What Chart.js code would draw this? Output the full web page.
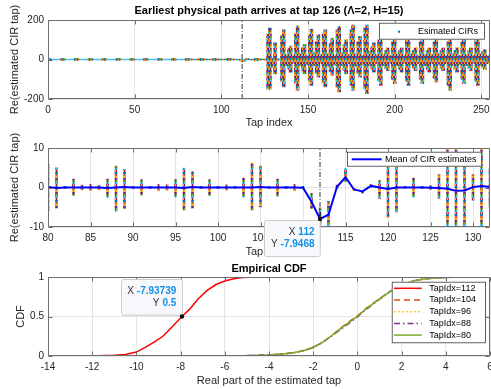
<!DOCTYPE html>
<html>
<head>
<meta charset="utf-8">
<title>CIR estimates</title>
<script src="https://cdn.jsdelivr.net/npm/chart.js@4.4.1/dist/chart.umd.min.js"></script>
<style>
  body { margin: 0; background: #fff; }
  #figure { position: relative; width: 491px; height: 389px; overflow: hidden; }
  #figure canvas { position: absolute; left: 0; }
</style>
</head>
<body>
<div id="figure">
  <canvas id="allTaps" width="491" height="130" style="top:0"></canvas>
  <canvas id="zoomTaps" width="491" height="132" style="top:130px"></canvas>
  <canvas id="cdf" width="491" height="131" style="top:258px"></canvas>
</div>
<script>
// spread (min / max over all realisations) of the estimated CIR taps
const cirTap = [
  0, 1, 8, 9, 16, 17, 24, 25, 32, 33, 40, 41, 48, 49, 56, 57, 64, 65, 72, 73,
  80, 81, 82, 83, 84, 85, 86, 87, 88, 89, 90, 91, 92, 93, 94, 95,
  96, 97, 98, 99, 100, 101, 102, 103, 104, 105, 106, 107, 108, 109, 110, 111,
  112, 113, 114, 115, 116, 117, 118, 119, 120, 121, 122, 123, 124, 125, 126, 127,
  128, 129, 130, 131, 132,
  135, 136, 137, 139, 140, 142,
  143, 144, 145, 147, 148, 150,
  151, 152, 153, 155, 156, 158,
  159, 160, 161, 163, 164, 166,
  167, 168, 169, 171, 172, 174,
  175, 176, 177, 179, 180, 182,
  183, 184, 185, 187, 188, 190,
  191, 192, 193, 195, 196, 198,
  199, 200, 201, 203, 204, 206,
  207, 208, 209, 211, 212, 214,
  215, 216, 217, 219, 220, 222,
  223, 224, 225, 227, 228, 230,
  231, 232, 233, 235, 236, 238,
  239, 240, 241, 243, 244, 246,
  247, 248, 249, 251, 252, 254
];
const cirLow = [
  -5.2, -4.6, -5.5, -4.8, -5.0, -4.4, -5.6, -4.9, -5.1, -4.5, -5.4, -4.7, -5.3, -4.6, -5.5, -4.8, -5.0, -4.5, -5.6, -4.9,
  -5.9, -5.2, -0.3, -2.0, -0.6, -0.8, -0.5, -2.5, -6.0, -5.3, -0.3, -1.9, -0.3, -0.8, -0.7, -2.4,
  -5.7, -5.2, -0.3, -2.0, -0.3, -0.7, -0.3, -2.4, -5.7, -4.9, -0.3, -2.2, -0.3, -0.8, -0.3, -5.3,
  -9.6, -10.5, -0.3, 1.5, -0.8, -1.4, 0.1, -2.8, -7.5, -6.2, -0.3, -2.4, -0.3, -0.5, -2.8, -150,
  -151, -40, -3.2, -73, -5,
  -110, -139, -30, -50, -65, -20,
  -120, -156, -30, -55, -73, -25,
  -110, -131, -30, -70, -89, -20,
  -120, -139, -35, -60, -81, -25,
  -140, -164, -30, -55, -73, -20,
  -130, -156, -35, -70, -89, -25,
  -150, -172, -30, -50, -64, -20,
  -110, -131, -30, -45, -56, -20,
  -100, -122, -30, -50, -64, -20,
  -110, -131, -25, -45, -56, -20,
  -100, -122, -30, -50, -64, -20,
  -95, -114, -25, -45, -56, -20,
  -130, -156, -30, -50, -64, -25,
  -100, -122, -30, -45, -56, -20,
  -110, -131, -30, -40, -50, -20
];
const cirHigh = [
  5.0, 4.4, 5.3, 4.6, 5.2, 4.5, 5.4, 4.7, 5.0, 4.6, 5.1, 4.5, 5.5, 4.8, 5.2, 4.4, 5.3, 4.7, 5.6, 4.5,
  5.9, 5.0, 0.3, 2.1, 0.6, 0.8, 0.5, 2.1, 5.4, 4.6, 0.3, 2.0, 0.3, 0.8, 0.7, 2.0,
  4.9, 4.0, 0.3, 2.0, 0.3, 0.7, 0.3, 2.4, 6.2, 5.4, 0.3, 2.1, 0.3, 0.8, 0.3, -1.5,
  -5.2, -3.5, 0.6, 4.8, -0.2, -0.8, 0.8, 1.8, 5.2, 5.1, 0.3, 2.4, 0.3, 0.5, 3.3, 130,
  159, 6, 3.3, 84, 5,
  120, 150, 25, 55, 68, 20,
  130, 170, 30, 60, 76, 20,
  125, 153, 35, 90, 125, 25,
  130, 150, 30, 80, 108, 20,
  150, 167, 35, 75, 100, 25,
  150, 175, 30, 90, 117, 20,
  160, 175, 40, 65, 84, 25,
  100, 117, 25, 45, 59, 20,
  90, 108, 30, 45, 59, 20,
  95, 108, 30, 45, 59, 20,
  90, 108, 25, 45, 59, 25,
  90, 108, 30, 45, 59, 20,
  90, 108, 30, 45, 59, 20,
  90, 108, 25, 45, 59, 20,
  95, 108, 30, 40, 50, 20
];

// the bulk of the estimates sit on zero across the whole delay line
const quietTap = [0, 255];
const quietLevel = [0, 0];

// mean of the CIR estimates, taps 80..132
const meanTap = [
  80, 81, 82, 83, 84, 85, 86, 87, 88, 89, 90, 91, 92, 93, 94, 95,
  96, 97, 98, 99, 100, 101, 102, 103, 104, 105, 106, 107, 108, 109, 110, 111,
  112, 113, 114, 115, 116, 117, 118, 119, 120, 121, 122, 123, 124, 125, 126, 127,
  128, 129, 130, 131, 132
];
const meanVal = [
  0.1, -0.1, 0, 0, 0, 0, 0, -0.1, 0, 0.1, 0, 0, 0, 0, 0, 0,
  -0.1, 0.1, 0, 0, 0, 0, 0, 0, 0, 0.1, 0, 0, 0, 0, -0.05, -3.6,
  -7.9468, -6.9, 0.2, 2.6, -0.5, -1.0, 0.4, 0, -0.35, 0, 0, 0, 0, -0.05, -0.1, -0.3,
  -0.85, -0.75, 0.1, 0.4, 0.15
];

const firstPathTap = 112;

// empirical CDFs of the real part for a few taps
const cdfX112 = [-12.87, -11.8, -11.0, -10.5, -10.0, -9.6, -9.2, -8.8, -8.4, -7.93739, -7.6, -7.2, -6.8, -6.4, -6.0, -5.6, -5.2, -4.6, -4.05];
const cdfY112 = [0, 0.002, 0.008, 0.02, 0.05, 0.11, 0.175, 0.25, 0.365, 0.5, 0.59, 0.725, 0.83, 0.905, 0.95, 0.978, 0.994, 1, 1];
const cdfX104 = [-5.4, -4.6, -3.9, -3.3, -2.8, -2.4, -2.0, -1.6, -1.2, -0.8, -0.4, 0, 0.4, 0.8, 1.2, 1.6, 2.0, 2.5, 3.0, 3.6, 4.4, 5.6];
const cdfY104 = [0, 0.006, 0.015, 0.026, 0.043, 0.07, 0.105, 0.17, 0.25, 0.345, 0.43, 0.51, 0.605, 0.685, 0.765, 0.84, 0.898, 0.948, 0.976, 0.99, 0.998, 1];
const cdfX96 = [-5.2, -4.5, -3.8, -3.3, -2.8, -2.4, -2.0, -1.6, -1.2, -0.8, -0.4, 0, 0.4, 0.8, 1.2, 1.6, 2.0, 2.5, 3.1, 3.7, 4.5, 5.4];
const cdfY96 = [0, 0.007, 0.016, 0.027, 0.045, 0.068, 0.108, 0.165, 0.25, 0.335, 0.425, 0.505, 0.6, 0.685, 0.765, 0.845, 0.905, 0.952, 0.978, 0.992, 0.999, 1];
const cdfX88 = [-5.7, -4.9, -4.1, -3.4, -2.9, -2.4, -2.0, -1.6, -1.2, -0.8, -0.4, 0, 0.4, 0.8, 1.2, 1.6, 2.0, 2.5, 3.0, 3.6, 4.2, 5.1];
const cdfY88 = [0, 0.005, 0.013, 0.024, 0.04, 0.072, 0.112, 0.168, 0.245, 0.33, 0.41, 0.495, 0.59, 0.675, 0.76, 0.84, 0.9, 0.948, 0.975, 0.99, 0.998, 1];
const cdfX80 = [-5.5, -4.8, -4.0, -3.4, -2.9, -2.4, -2.0, -1.6, -1.2, -0.8, -0.4, 0, 0.4, 0.8, 1.2, 1.6, 2.0, 2.5, 3.0, 3.6, 4.3, 5.0, 5.8];
const cdfY80 = [0, 0.006, 0.014, 0.025, 0.04, 0.07, 0.11, 0.17, 0.25, 0.34, 0.42, 0.5, 0.6, 0.68, 0.76, 0.84, 0.9, 0.95, 0.975, 0.99, 0.998, 1, 1];

// axes
const cirXRange = [0, 255], cirYRange = [-200, 200];
const cirXTicks = [0, 50, 100, 150, 200, 250], cirYTicks = [-200, 0, 200];
const zoomXRange = [80, 132], zoomYRange = [-10, 10];
const zoomXTicks = [80, 85, 90, 95, 100, 105, 110, 115, 120, 125, 130], zoomYTicks = [-10, 0, 10];
const cdfXRange = [-14, 6], cdfYRange = [0, 1];
const cdfXTicks = [-14, -12, -10, -8, -6, -4, -2, 0, 2, 4, 6], cdfYTicks = [0, 0.5, 1];

const FONT = "'Liberation Sans', Arial, Helvetica, sans-serif";
const matlabColors = ['#0072BD', '#D95319', '#EDB120', '#7E2F8E', '#77AC30', '#4DBEEE', '#A2142F'];

Chart.defaults.font.family = FONT;
Chart.defaults.color = '#262626';
Chart.defaults.animation = false;

const pts = (xs, ys) => xs.map((x, i) => ({ x, y: ys[i] }));
const spans = (xs, lo, hi) => xs.map((x, i) => ({ x, y: [lo[i], hi[i]] }));

// stacked coloured dots, used to fill the per-tap columns
function dotPattern(width, dot) {
  const n = matlabColors.length;
  const c = document.createElement('canvas');
  c.width = width;
  c.height = n * dot;
  const g = c.getContext('2d');
  for (let col = 0; col < width; col++) {
    for (let row = 0; row < n; row++) {
      g.fillStyle = matlabColors[(row + col * 3) % n];
      g.fillRect(col, row * dot, 1, dot);
    }
  }
  return g.createPattern(c, 'repeat');
}

function axis(range, ticks, size, text, titlePad, labelPad) {
  return {
    type: 'linear',
    min: range[0],
    max: range[1],
    offset: false,
    grid: { color: '#e4e4e4', drawTicks: false, offset: false },
    border: { display: false },
    ticks: { padding: labelPad, font: { size: 10 }, color: '#262626', autoSkip: false, maxRotation: 0, callback: v => String(v) },
    title: { display: true, text: text, font: { size: 11 }, color: '#262626', padding: titlePad },
    afterBuildTicks: s => { s.ticks = ticks.map(v => ({ value: v })); },
    afterFit: s => {
      if (s.isHorizontal()) s.height = size; else s.width = size;
      s.paddingLeft = s.paddingRight = s.paddingTop = s.paddingBottom = 0;
    }
  };
}

// axes box with inward tick marks
const axesBox = {
  id: 'axesBox',
  afterDatasetsDraw(chart) {
    const { ctx, chartArea: a, scales: { x, y } } = chart;
    const L = Math.round(a.left) + 0.5, R = Math.round(a.right) - 0.5;
    const T = Math.round(a.top) + 0.5, B = Math.round(a.bottom) - 0.5;
    ctx.save();
    ctx.strokeStyle = '#6e6e6e';
    ctx.lineWidth = 1;
    ctx.beginPath();
    ctx.rect(L, T, R - L, B - T);
    x.ticks.forEach(t => {
      const px = Math.round(x.getPixelForValue(t.value)) + 0.5;
      ctx.moveTo(px, B); ctx.lineTo(px, B - 4);
      ctx.moveTo(px, T); ctx.lineTo(px, T + 4);
    });
    y.ticks.forEach(t => {
      const py = Math.round(y.getPixelForValue(t.value)) + 0.5;
      ctx.moveTo(L, py); ctx.lineTo(L + 4, py);
      ctx.moveTo(R, py); ctx.lineTo(R - 4, py);
    });
    ctx.stroke();
    ctx.restore();
  }
};

// legend drawn inside the axes, upper right corner
function legendBox(cfg) {
  return {
    id: 'legendBox',
    afterDraw(chart) {
      const { ctx, chartArea: a } = chart;
      const left = a.right - cfg.right - cfg.w, top = a.top + cfg.top;
      ctx.save();
      ctx.fillStyle = '#fff';
      ctx.fillRect(left, top, cfg.w, cfg.h);
      ctx.strokeStyle = '#3a3a3a';
      ctx.lineWidth = 0.8;
      ctx.strokeRect(left + 0.5, top + 0.5, cfg.w - 1, cfg.h - 1);
      ctx.font = '9px ' + FONT;
      ctx.textBaseline = 'middle';
      cfg.entries.forEach((idx, row) => {
        const ds = chart.data.datasets[idx];
        const cy = top + cfg.firstRow + row * cfg.rowStep;
        const sx = left + cfg.sampleX;
        if (ds.type === 'bar') {
          ctx.fillStyle = matlabColors[0];
          ctx.fillRect(sx - 1, cy - 1, 2, 2);
        } else {
          ctx.strokeStyle = ds.borderColor;
          ctx.lineWidth = ds.borderWidth;
          ctx.setLineDash(ds.borderDash || []);
          ctx.beginPath();
          ctx.moveTo(sx, cy);
          ctx.lineTo(sx + cfg.sampleLen, cy);
          ctx.stroke();
          ctx.setLineDash([]);
        }
        ctx.fillStyle = '#000';
        ctx.fillText(ds.label, left + cfg.textX, cy);
      });
      ctx.restore();
    }
  };
}

// data tip pinned to one point of a dataset
function dataTip(cfg) {
  return {
    id: 'dataTip',
    afterDraw(chart) {
      const { ctx, scales: { x, y } } = chart;
      const pt = chart.data.datasets[cfg.dataset].data[cfg.index];
      const px = x.getPixelForValue(pt.x), py = y.getPixelForValue(pt.y);
      const bx = Math.round(px + cfg.dx), by = Math.round(py + cfg.dy);
      ctx.save();
      ctx.beginPath();
      ctx.roundRect(bx + 0.5, by + 0.5, cfg.w, cfg.h, 2);
      ctx.fillStyle = '#f6f8fb';
      ctx.fill();
      ctx.strokeStyle = '#c8ccd1';
      ctx.lineWidth = 1;
      ctx.stroke();
      ctx.textBaseline = 'middle';
      ctx.textAlign = 'right';
      [['X', pt.x], ['Y', pt.y]].forEach(([name, v], i) => {
        const tx = bx + cfg.w - cfg.padRight, ty = by + cfg.rows[i];
        const txt = String(v);
        ctx.font = 'bold 10px ' + FONT;
        ctx.fillStyle = '#1590ea';
        ctx.fillText(txt, tx, ty);
        const w = ctx.measureText(txt).width;
        ctx.font = '10px ' + FONT;
        ctx.fillStyle = '#333';
        ctx.fillText(name, tx - w - 3, ty);
      });
      ctx.beginPath();
      ctx.arc(px, py, 2.2, 0, Math.PI * 2);
      ctx.fillStyle = '#111';
      ctx.fill();
      ctx.restore();
    }
  };
}

const plainPlugins = { legend: { display: false }, tooltip: { enabled: false } };

// all taps
new Chart(document.getElementById('allTaps'), {
  type: 'bar',
  data: {
    datasets: [
      { type: 'bar', label: 'Esimated CIRs', data: spans(cirTap, cirLow, cirHigh), backgroundColor: dotPattern(3, 2), barThickness: 3, borderWidth: 0, order: 2 },
      { type: 'line', label: 'zero', data: pts(quietTap, quietLevel), borderColor: '#4DBEEE', borderWidth: 1.5, pointRadius: 0, order: 3 },
      { type: 'line', label: 'first path', data: pts([firstPathTap, firstPathTap], cirYRange), borderColor: '#000', borderWidth: 0.8, borderDash: [5, 2, 1, 2], pointRadius: 0, order: 1 }
    ]
  },
  options: {
    responsive: false,
    layout: { padding: { top: 0, right: 1, bottom: 0, left: 0 } },
    scales: {
      x: axis(cirXRange, cirXTicks, 31, 'Tap index', { top: 0, bottom: 0.9 }, 5),
      y: axis(cirYRange, cirYTicks, 48, 'Re(estimated CIR tap)', { top: 8.4, bottom: 0 }, 4)
    },
    plugins: {
      ...plainPlugins,
      title: { display: true, text: 'Earliest physical path arrives at tap 126 (\u039B=2, H=15)', fullSize: false, color: '#000', font: { size: 11, weight: 'bold' }, padding: { top: 4.4, bottom: 2.4 } }
    }
  },
  plugins: [axesBox, legendBox({ right: 5, top: 2.7, w: 106, h: 17, firstRow: 9, rowStep: 0, sampleX: 20, sampleLen: 0, textX: 39, entries: [0] })]
});

// zoom on taps 80..132 with the mean
new Chart(document.getElementById('zoomTaps'), {
  type: 'bar',
  data: {
    datasets: [
      { type: 'line', label: 'Mean of CIR estimates', data: pts(meanTap, meanVal), borderColor: '#0000ff', borderWidth: 2, pointRadius: 0, tension: 0, order: 0 },
      { type: 'bar', label: 'Esimated CIRs', data: spans(cirTap, cirLow, cirHigh), backgroundColor: dotPattern(2, 2), barThickness: 2, borderWidth: 0, order: 2 },
      { type: 'line', label: 'first path', data: pts([firstPathTap, firstPathTap], zoomYRange), borderColor: '#000', borderWidth: 0.8, borderDash: [5, 2, 1, 2], pointRadius: 0, order: 1 }
    ]
  },
  options: {
    responsive: false,
    layout: { padding: { top: 18, right: 1, bottom: 0, left: 0 } },
    scales: {
      x: axis(zoomXRange, zoomXTicks, 35, 'Tap index', { top: 0, bottom: 3.7 }, 5),
      y: axis(zoomYRange, zoomYTicks, 48, 'Re(estimated CIR tap)', { top: 8.4, bottom: 0 }, 4)
    },
    plugins: plainPlugins
  },
  plugins: [axesBox,
    legendBox({ right: 8, top: 3.7, w: 135, h: 15, firstRow: 7.6, rowStep: 0, sampleX: 4.7, sampleLen: 30, textX: 38, entries: [0] }),
    dataTip({ dataset: 0, index: meanTap.indexOf(firstPathTap), dx: -56.5, dy: 1.6, w: 55.8, h: 36, rows: [12, 24.5], padRight: 5.3 })]
});

// empirical CDF of the real part
new Chart(document.getElementById('cdf'), {
  type: 'line',
  data: {
    datasets: [
      { label: 'TapIdx=112', data: pts(cdfX112, cdfY112), borderColor: '#ff0000', borderWidth: 1.5, pointRadius: 0, order: 4 },
      { label: 'TapIdx=104', data: pts(cdfX104, cdfY104), borderColor: '#D95319', borderWidth: 1.5, borderDash: [6, 4], pointRadius: 0, order: 3 },
      { label: 'TapIdx=96', data: pts(cdfX96, cdfY96), borderColor: '#EDB120', borderWidth: 1.5, borderDash: [1.5, 2.5], pointRadius: 0, order: 2 },
      { label: 'TapIdx=88', data: pts(cdfX88, cdfY88), borderColor: '#7E2F8E', borderWidth: 1.5, borderDash: [6, 3, 1.5, 3], pointRadius: 0, order: 1 },
      { label: 'TapIdx=80', data: pts(cdfX80, cdfY80), borderColor: '#77AC30', borderWidth: 1.5, pointRadius: 0, order: 0 }
    ]
  },
  options: {
    responsive: false,
    layout: { padding: { top: 0, right: 1, bottom: 0, left: 0 } },
    scales: {
      x: axis(cdfXRange, cdfXTicks, 33, 'Real part of the estimated tap', { top: 0, bottom: 1.4 }, 5),
      y: axis(cdfYRange, cdfYTicks, 48, 'CDF', { top: 14.7, bottom: 0 }, 4)
    },
    plugins: {
      ...plainPlugins,
      title: { display: true, text: 'Empirical CDF', fullSize: false, color: '#000', font: { size: 11, weight: 'bold' }, padding: { top: 4.4, bottom: 1.4 } }
    }
  },
  plugins: [axesBox,
    legendBox({ right: 4, top: 4.7, w: 94.3, h: 61.6, firstRow: 6.6, rowStep: 11.7, sampleX: 2.3, sampleLen: 27.7, textX: 37.6, entries: [0, 1, 2, 3, 4] }),
    dataTip({ dataset: 0, index: cdfX112.indexOf(-7.93739), dx: -61.3, dy: -37.2, w: 61, h: 35.7, rows: [12.4, 24.7], padRight: 5.7 })]
});
</script>
</body>
</html>
